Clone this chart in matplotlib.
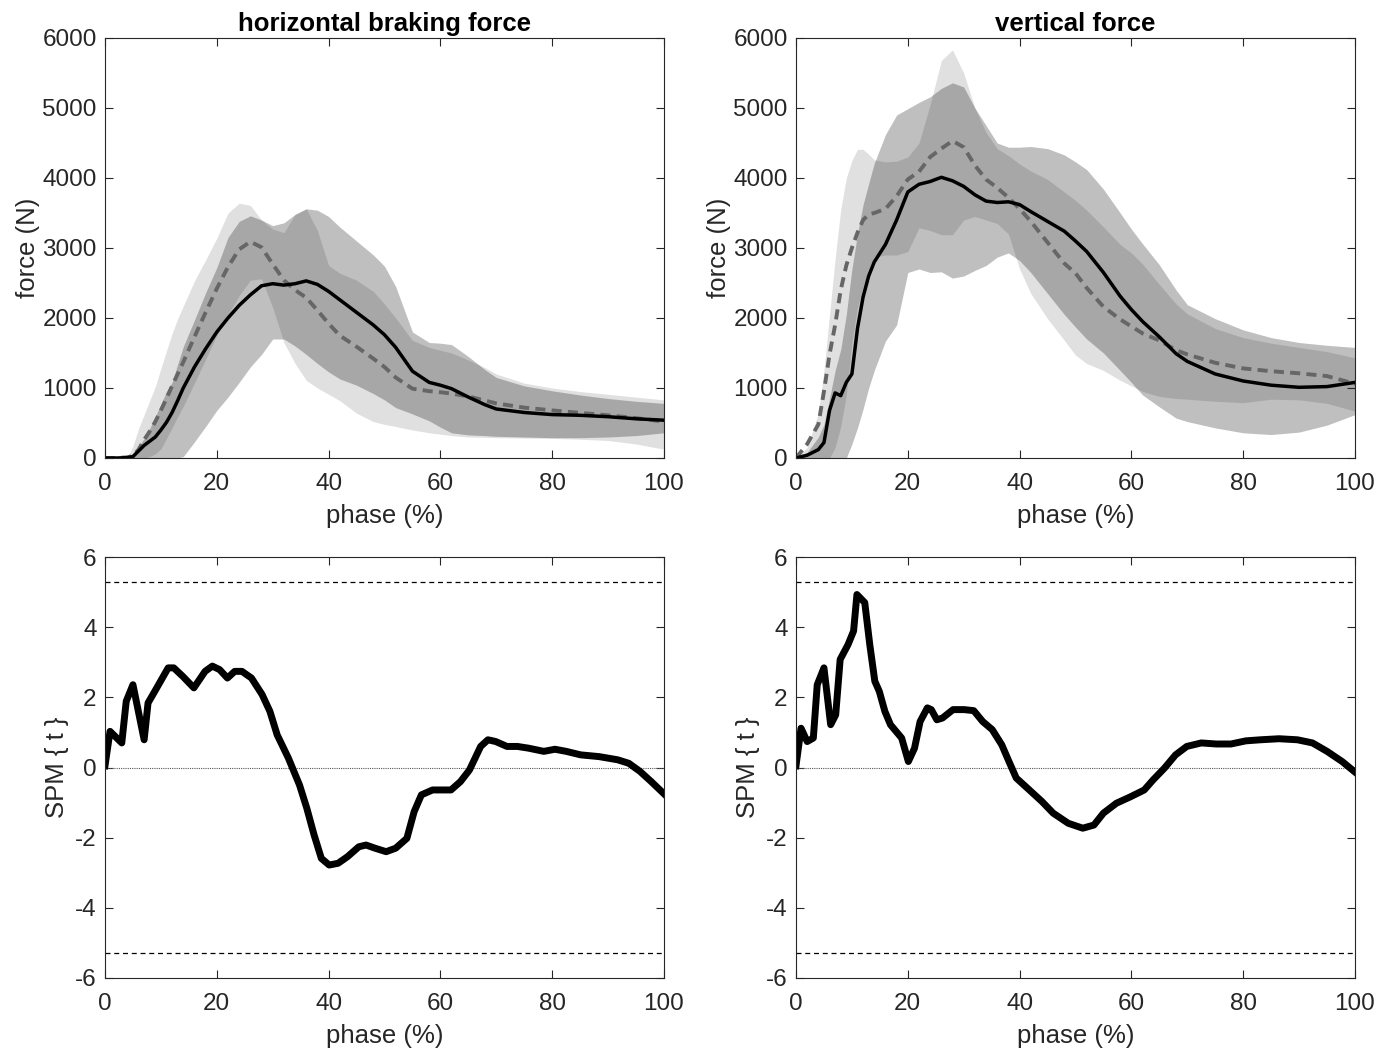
import numpy as np
import matplotlib
matplotlib.use("Agg")
import matplotlib.pyplot as plt

plt.rcParams['font.family'] = ['Liberation Sans', 'DejaVu Sans']
plt.rcParams['axes.unicode_minus'] = False

# phase knots (%) for the force panels
phase = [0, 2, 4, 5, 6, 7, 8, 9, 10, 11, 12, 13, 14, 16, 18, 20, 22, 24, 26, 28, 30,
         32, 34, 36, 38, 40, 42, 45, 48, 50, 52, 55, 58, 60, 62, 65, 68, 70, 75, 80,
         85, 90, 95, 100]

# horizontal braking force (N)
hb_solid = [0, 0, 5, 20, 100, 180, 240, 300, 400, 510, 650, 820, 1000, 1300, 1560, 1800,
            2000, 2180, 2330, 2460, 2490, 2470, 2490, 2530, 2480, 2380, 2260, 2080, 1900,
            1760, 1580, 1240, 1080, 1040, 990, 870, 760, 700, 650, 620, 610, 590, 560, 540]
hb_solid_hi = [0, 0, 10, 60, 160, 280, 420, 590, 770, 950, 1080, 1340, 1590, 1970, 2360,
               2720, 3150, 3380, 3460, 3400, 3320, 3360, 3480, 3560, 3540, 3450, 3300, 3100,
               2900, 2740, 2450, 1800, 1650, 1640, 1620, 1450, 1260, 1150, 1030, 960, 900,
               850, 810, 780]
hb_solid_lo = [0, 0, 0, 0, 0, 0, 0, 0, 0, 0, 0, 0, 20, 230, 450, 680, 870, 1080, 1300, 1480,
               1700, 1700, 1600, 1480, 1350, 1230, 1130, 1040, 920, 830, 720, 630, 530, 440,
               360, 330, 320, 310, 300, 290, 290, 300, 320, 360]
hb_dash = [0, 0, 10, 30, 120, 260, 380, 520, 680, 850, 1030, 1200, 1370, 1730, 2080, 2420,
           2730, 2980, 3090, 3010, 2770, 2540, 2400, 2290, 2110, 1920, 1750, 1590, 1420, 1300,
           1150, 990, 955, 940, 920, 880, 820, 780, 720, 680, 645, 610, 570, 520]
hb_dash_hi = [0, 0, 0, 170, 420, 620, 820, 1020, 1280, 1530, 1780, 1990, 2170, 2530, 2830,
              3140, 3500, 3640, 3610, 3400, 3270, 3220, 3480, 3560, 3250, 2750, 2640, 2540,
              2380, 2200, 2000, 1680, 1580, 1540, 1500, 1400, 1290, 1200, 1070, 1000, 950,
              910, 870, 830]
hb_dash_lo = [0, 0, 0, 0, 0, 0, 20, 60, 130, 280, 430, 590, 740, 1070, 1410, 1750, 2050,
              2320, 2540, 2560, 2150, 1650, 1350, 1110, 1000, 910, 820, 640, 520, 480, 450,
              400, 360, 340, 320, 300, 295, 290, 285, 280, 268, 250, 200, 125]

# vertical force (N)
vf_solid = [0, 40, 120, 220, 680, 930, 890, 1080, 1200, 1850, 2300, 2600, 2800, 3050, 3400,
            3800, 3910, 3950, 4010, 3960, 3880, 3760, 3670, 3650, 3660, 3620, 3520, 3380,
            3240, 3100, 2950, 2650, 2310, 2120, 1950, 1730, 1490, 1380, 1200, 1100, 1040,
            1010, 1020, 1080]
vf_solid_hi = [0, 80, 300, 480, 850, 1250, 1550, 2050, 2700, 3200, 3620, 3920, 4210, 4620,
               4900, 4990, 5080, 5160, 5280, 5360, 5300, 5000, 4750, 4500, 4440, 4440, 4450,
               4420, 4330, 4230, 4120, 3840, 3500, 3270, 3060, 2760, 2400, 2190, 1990, 1830,
               1720, 1650, 1610, 1580]
vf_solid_lo = [0, 0, 0, 0, 0, 0, 0, 0, 200, 430, 700, 1000, 1250, 1670, 1900, 2650, 2700,
               2650, 2660, 2570, 2600, 2680, 2750, 2870, 2930, 2820, 2650, 2350, 2050, 1870,
               1700, 1500, 1250, 1080, 900, 730, 570, 520, 430, 360, 335, 370, 470, 620]
vf_dash = [0, 200, 480, 950, 1480, 1900, 2400, 2750, 3000, 3220, 3400, 3480, 3500, 3560,
           3740, 3980, 4090, 4300, 4420, 4530, 4440, 4180, 3980, 3860, 3720, 3560, 3380, 3080,
           2780, 2640, 2430, 2160, 1980, 1880, 1780, 1680, 1540, 1480, 1360, 1280, 1240, 1210,
           1170, 1060]
vf_dash_hi = [0, 150, 640, 1250, 2050, 2850, 3550, 4000, 4250, 4410, 4410, 4340, 4260, 4230,
              4240, 4300, 4500, 5050, 5680, 5830, 5500, 5000, 4650, 4420, 4320, 4200, 4100,
              3980, 3800, 3680, 3540, 3300, 3050, 2930, 2770, 2480, 2200, 2060, 1850, 1720,
              1640, 1580, 1520, 1430]
vf_dash_lo = [0, 0, 0, 0, 0, 150, 450, 900, 1650, 2150, 2450, 2700, 2870, 2900, 2900, 2950,
              3290, 3250, 3190, 3190, 3400, 3450, 3400, 3350, 3200, 2700, 2350, 1990, 1680,
              1470, 1350, 1250, 1110, 1030, 950, 880, 850, 840, 810, 790, 840, 830, 780, 670]

# SPM{t} curves
hb_t_x = [0, 0.9, 3, 3.8, 5, 7, 7.7, 8.9, 11.3, 12.3, 13.9, 15.9, 17.9, 19.2, 20.5, 21.9,
          23.2, 24.5, 26.2, 28.1, 29.5, 30.8, 32.8, 34.8, 36.1, 37.4, 38.7, 40.1, 41.7, 43.4,
          45.4, 46.7, 48.3, 50.3, 52, 54, 55.3, 56.6, 58.6, 61.9, 63.6, 65.2, 67.2, 68.5,
          69.9, 71.9, 73.8, 75.8, 78.5, 80.5, 82.5, 85.1, 88.4, 91.7, 93.7, 95.7, 97.7, 100]
hb_t = [0.05, 1.03, 0.7, 1.89, 2.36, 0.79, 1.84, 2.17, 2.84, 2.84, 2.6, 2.27, 2.74, 2.89,
        2.79, 2.55, 2.74, 2.74, 2.55, 2.08, 1.6, 0.93, 0.27, -0.5, -1.16, -1.92, -2.59, -2.78,
        -2.73, -2.54, -2.26, -2.21, -2.3, -2.4, -2.3, -2.02, -1.26, -0.78, -0.64, -0.64, -0.4,
        -0.07, 0.6, 0.79, 0.74, 0.6, 0.6, 0.55, 0.46, 0.52, 0.46, 0.36, 0.31, 0.22, 0.12,
        -0.11, -0.4, -0.75]
vf_t_x = [0, 0.9, 2, 3.1, 3.8, 5, 6.2, 7.1, 7.9, 9.3, 10.3, 10.9, 12.3, 13.2, 14.1, 14.9,
          15.9, 16.9, 18.9, 20.1, 21.2, 22.2, 23.5, 24.2, 25.2, 26.2, 28.1, 30.1, 31.8, 33.4,
          35.1, 36.8, 38.1, 39.4, 41.4, 44, 46, 48.7, 51.3, 53.3, 55, 57.3, 59.9, 62.3, 63.9,
          65.9, 67.9, 69.9, 72.5, 75.2, 77.8, 80.5, 83.1, 86.4, 89.7, 92.4, 95, 97.7, 100]
vf_t = [0.05, 1.12, 0.74, 0.84, 2.36, 2.84, 1.22, 1.5, 3.08, 3.5, 3.89, 4.93, 4.7, 3.5, 2.46,
        2.17, 1.6, 1.22, 0.84, 0.17, 0.55, 1.31, 1.7, 1.65, 1.36, 1.41, 1.65, 1.65, 1.62, 1.31,
        1.08, 0.65, 0.17, -0.3, -0.59, -0.97, -1.3, -1.59, -1.73, -1.64, -1.3, -1.02, -0.83,
        -0.64, -0.35, -0.02, 0.36, 0.6, 0.7, 0.67, 0.67, 0.76, 0.79, 0.82, 0.79, 0.7, 0.46,
        0.17, -0.13]
t_crit = 5.3

axc = '#262626'
fig = plt.figure(figsize=(13.91, 10.52), dpi=100)
W, H = 1391, 1052
def box(l, t, r, b):
    return [l / W, 1 - b / H, (r - l) / W, (b - t) / H]

ax1 = fig.add_axes(box(105, 38, 664, 458))
ax2 = fig.add_axes(box(796, 38, 1355, 458))
ax3 = fig.add_axes(box(105, 557, 664, 978))
ax4 = fig.add_axes(box(796, 557, 1355, 978))

def force_panel(ax, title, s, s_hi, s_lo, d, d_hi, d_lo):
    ax.fill_between(phase, d_lo, d_hi, color='k', alpha=0.12, lw=0)
    ax.fill_between(phase, s_lo, s_hi, color='k', alpha=0.25, lw=0)
    ax.plot(phase, d, color='#666666', lw=2.8, ls=(0, (2.6, 1.6)))
    ax.plot(phase, s, color='k', lw=2.5, solid_joinstyle='round')
    ax.set_ylim(0, 6000)
    ax.set_yticks(range(0, 6001, 1000))
    ax.set_ylabel('force (N)', labelpad=2)
    ax.set_title(title, fontweight='bold', fontsize=18.5, pad=5, color='k')

def spm_panel(ax, x, t):
    ax.axhline(t_crit, color='k', lw=0.9, ls=(0, (4, 3)))
    ax.axhline(-t_crit, color='k', lw=0.9, ls=(0, (4, 3)))
    ax.axhline(0, color='#555555', lw=0.8, ls=(0, (1, 1)))
    ax.plot(x, t, color='k', lw=5, solid_joinstyle='round')
    ax.set_ylim(-6, 6)
    ax.set_yticks(range(-6, 7, 2))
    ax.set_ylabel('SPM { t }', labelpad=4)

force_panel(ax1, 'horizontal braking force', hb_solid, hb_solid_hi, hb_solid_lo,
            hb_dash, hb_dash_hi, hb_dash_lo)
force_panel(ax2, 'vertical force', vf_solid, vf_solid_hi, vf_solid_lo,
            vf_dash, vf_dash_hi, vf_dash_lo)
spm_panel(ax3, hb_t_x, hb_t)
spm_panel(ax4, vf_t_x, vf_t)

for ax in (ax1, ax2, ax3, ax4):
    ax.set_xlim(0, 100)
    ax.set_xticks(range(0, 101, 20))
    ax.set_xlabel('phase (%)', fontsize=18.5, color=axc, labelpad=6)
    ax.yaxis.label.set_fontsize(18.5)
    ax.yaxis.label.set_color(axc)
    ax.tick_params(direction='in', top=True, right=True, length=6, width=0.8,
                   labelsize=17.5, colors=axc)
    ax.tick_params(axis='x', pad=11)
    ax.tick_params(axis='y', pad=6)
    for sp in ax.spines.values():
        sp.set_color(axc)
        sp.set_linewidth(0.8)

fig.savefig('out.png', dpi=100)
